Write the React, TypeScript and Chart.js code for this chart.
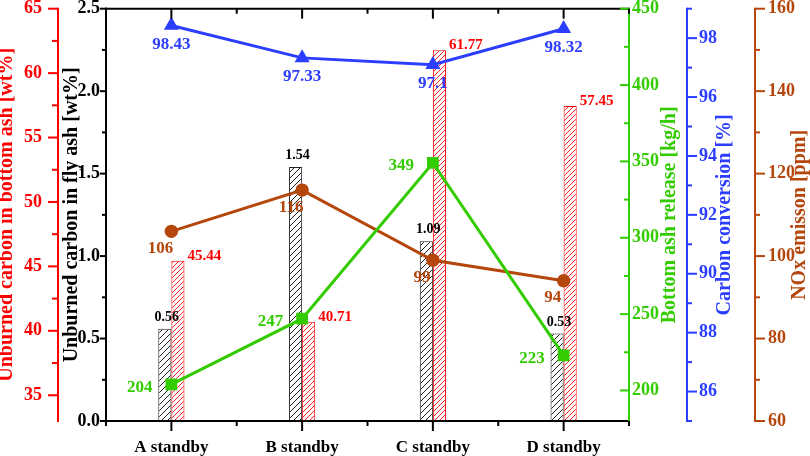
import React, { useEffect, useRef } from "react";
import { Chart, registerables } from "chart.js";

Chart.register(...registerables);

// ---------- data ----------
const categories = ["A standby", "B standby", "C standby", "D standby"];
const flyAshCarbon = [0.56, 1.54, 1.09, 0.53];
const bottomAshCarbon = [45.44, 40.71, 61.77, 57.45];
const bottomAshRelease = [204, 247, 349, 223];
const carbonConversion = [98.43, 97.33, 97.1, 98.32];
const noxEmission = [106, 116, 99, 94];

const flyTicks = [0, 0.5, 1.0, 1.5, 2.0, 2.5];
const bottomTicks = [35, 40, 45, 50, 55, 60, 65];
const releaseTicks = [200, 250, 300, 350, 400, 450];
const conversionTicks = [86, 88, 90, 92, 94, 96, 98];
const noxTicks = [60, 80, 100, 120, 140, 160];

// ---------- style ----------
const RED = "#ff0000";
const GREEN = "#33cc00";
const BLUE = "#2b3dff";
const BROWN = "#b5460c";
const BLACK = "#000000";
const FONT = "'Liberation Serif', 'Times New Roman', serif";

function hatch(color: string, size: number, lw: number) {
  const c = document.createElement("canvas");
  c.width = size;
  c.height = size;
  const g = c.getContext("2d")!;
  g.fillStyle = "#ffffff";
  g.fillRect(0, 0, size, size);
  g.strokeStyle = color;
  g.lineWidth = lw;
  g.beginPath();
  g.moveTo(0, size);
  g.lineTo(size, 0);
  g.moveTo(-1, 1);
  g.lineTo(1, -1);
  g.moveTo(size - 1, size + 1);
  g.lineTo(size + 1, size - 1);
  g.stroke();
  return g.createPattern(c, "repeat")!;
}

function yScale(
  position: string,
  weight: number,
  min: number,
  max: number,
  tickVals: number[],
  color: string,
  width: number,
  padding: number,
  decimals: number
) {
  return {
    type: "linear",
    position,
    weight,
    min,
    max,
    grid: { display: false, drawTicks: false },
    border: { display: false },
    ticks: {
      color,
      autoSkip: false,
      padding,
      font: { family: FONT, size: 18, weight: "bold" },
      callback: (v: number) => Number(v).toFixed(decimals),
    },
    afterBuildTicks: (s: any) => {
      s.ticks = tickVals.map((v) => ({ value: v }));
    },
    afterFit: (s: any) => {
      s.width = width;
      s.paddingTop = 0;
      s.paddingBottom = 0;
    },
  };
}

const decoPlugin = {
  id: "deco",
  afterDraw(chart: any) {
    const ctx = chart.ctx as CanvasRenderingContext2D;
    const ca = chart.chartArea;
    ctx.save();
    ctx.lineWidth = 2;
    ctx.lineCap = "butt";
    const line = (x1: number, y1: number, x2: number, y2: number, color: string) => {
      ctx.strokeStyle = color;
      ctx.beginPath();
      ctx.moveTo(x1, y1);
      ctx.lineTo(x2, y2);
      ctx.stroke();
    };
    // frame top & bottom
    line(ca.left - 1, ca.top, ca.right + 1, ca.top, BLACK);
    line(ca.left - 1, ca.bottom, ca.right + 1, ca.bottom, BLACK);

    const specs = [
      { id: "yBottom", edge: "right", color: RED, dir: -1, maj: 10, mi: 6 },
      { id: "yFly", edge: "right", color: BLACK, dir: -1, maj: 6, mi: 4 },
      { id: "yRelease", edge: "left", color: GREEN, dir: -1, maj: 9, mi: 5 },
      { id: "yConv", edge: "left", color: BLUE, dir: 1, maj: 10, mi: 5 },
      { id: "yNox", edge: "left", color: BROWN, dir: 1, maj: 10, mi: 5 },
    ];
    for (const sp of specs) {
      const s = chart.scales[sp.id];
      const x = s[sp.edge];
      line(x, s.top - 1, x, s.bottom + 1, sp.color);
      const majors = s.ticks.map((t: any) => t.value);
      const step = majors[1] - majors[0];
      const minors = [majors[0] - step / 2, ...majors.map((v: number) => v + step / 2)].filter(
        (v: number) => v >= s.min - 1e-9 && v <= s.max + 1e-9
      );
      for (const v of majors) {
        const y = s.getPixelForValue(v);
        line(x, y, x + sp.dir * sp.maj, y, sp.color);
      }
      for (const v of minors) {
        const y = s.getPixelForValue(v);
        line(x, y, x + sp.dir * sp.mi, y, sp.color);
      }
    }
    // x ticks
    const xs = chart.scales.x;
    for (let i = 0; i < categories.length; i++) {
      const px = xs.getPixelForValue(i);
      line(px, ca.bottom, px, ca.bottom + 10, BLACK);
      line(px, ca.top, px, ca.top + 10, BLACK);
    }
    for (let i = 0; i <= categories.length; i++) {
      const px = xs.getPixelForValue(i - 0.5);
      line(px, ca.bottom, px, ca.bottom + 5, BLACK);
      line(px, ca.top, px, ca.top + 5, BLACK);
    }

    // axis titles
    const cy = (ca.top + ca.bottom) / 2;
    const titles = [
      { id: "yBottom", text: "Unburned carbon in bottom ash [wt%]", color: RED, x: (s: any) => s.left + 7 },
      { id: "yFly", text: "Unburned carbon in fly ash [wt%]", color: BLACK, x: (s: any) => s.left + 13.5 },
      { id: "yRelease", text: "Bottom ash release [kg/h]", color: GREEN, x: (s: any) => s.right - 17.5 },
      { id: "yConv", text: "Carbon conversion [%]", color: BLUE, x: (s: any) => s.right - 30 },
      { id: "yNox", text: "NOx emisson [ppm]", color: BROWN, x: (s: any) => s.right - 10.5 },
    ];
    ctx.font = `bold 20px ${FONT}`;
    ctx.textAlign = "center";
    ctx.textBaseline = "middle";
    for (const t of titles) {
      const s = chart.scales[t.id];
      ctx.save();
      ctx.translate(t.x(s), cy);
      ctx.rotate(-Math.PI / 2);
      ctx.fillStyle = t.color;
      ctx.fillText(t.text, 0, 0);
      ctx.restore();
    }
    ctx.restore();
  },
  afterDatasetsDraw(chart: any) {
    const ctx = chart.ctx as CanvasRenderingContext2D;
    ctx.save();
    ctx.textBaseline = "middle";
    const fmt2 = (v: number) => String(v);
    // black bars
    const m0 = chart.getDatasetMeta(0);
    ctx.font = `bold 14px ${FONT}`;
    ctx.fillStyle = BLACK;
    ctx.textAlign = "center";
    m0.data.forEach((el: any, i: number) => {
      ctx.fillText(flyAshCarbon[i].toFixed(2), el.x + 2, el.y - 11.5);
    });
    // red bars
    const m1 = chart.getDatasetMeta(1);
    ctx.font = `bold 15px ${FONT}`;
    ctx.fillStyle = RED;
    ctx.textAlign = "left";
    m1.data.forEach((el: any, i: number) => {
      ctx.fillText(bottomAshCarbon[i].toFixed(2), el.x + el.width / 2 + 3, el.y - 5);
    });
    // green
    const m2 = chart.getDatasetMeta(2);
    ctx.font = `bold 17px ${FONT}`;
    ctx.fillStyle = GREEN;
    ctx.textAlign = "right";
    m2.data.forEach((el: any, i: number) => {
      ctx.fillText(fmt2(bottomAshRelease[i]), el.x - 19, el.y + 3);
    });
    // blue
    const m3 = chart.getDatasetMeta(3);
    ctx.fillStyle = BLUE;
    ctx.textAlign = "center";
    m3.data.forEach((el: any, i: number) => {
      ctx.fillText(fmt2(carbonConversion[i]), el.x, el.y + 19);
    });
    // brown
    const m4 = chart.getDatasetMeta(4);
    ctx.fillStyle = BROWN;
    ctx.textAlign = "center";
    m4.data.forEach((el: any, i: number) => {
      ctx.fillText(fmt2(noxEmission[i]), el.x - 11, el.y + 17);
    });
    ctx.restore();
  },
};

export default function App() {
  const ref = useRef<HTMLCanvasElement>(null);
  useEffect(() => {
    if (!ref.current) return;
    const blackHatch = hatch("#222222", 6, 1);
    const redHatch = hatch("#ff2222", 5, 1);
    const chart = new Chart(ref.current, {
      type: "bar",
      data: {
        labels: categories,
        datasets: [
          {
            type: "bar",
            label: "Unburned carbon in fly ash",
            data: flyAshCarbon,
            yAxisID: "yFly",
            backgroundColor: blackHatch,
            borderColor: "#222222",
            borderWidth: 1,
            borderSkipped: false,
            categoryPercentage: 0.2,
            barPercentage: 1,
            order: 1,
          },
          {
            type: "bar",
            label: "Unburned carbon in bottom ash",
            data: bottomAshCarbon,
            yAxisID: "yBottom",
            backgroundColor: redHatch,
            borderColor: RED,
            borderWidth: 1,
            borderSkipped: false,
            categoryPercentage: 0.2,
            barPercentage: 1,
            order: 1,
          },
          {
            type: "line",
            label: "Bottom ash release",
            data: bottomAshRelease,
            yAxisID: "yRelease",
            borderColor: GREEN,
            backgroundColor: GREEN,
            borderWidth: 3,
            pointStyle: "rect",
            pointRadius: 8.3,
            pointBorderWidth: 0,
            tension: 0,
            order: 0,
          },
          {
            type: "line",
            label: "Carbon conversion",
            data: carbonConversion,
            yAxisID: "yConv",
            borderColor: BLUE,
            backgroundColor: BLUE,
            borderWidth: 3,
            pointStyle: "triangle",
            pointRadius: 8.7,
            pointBorderWidth: 0,
            tension: 0,
            order: 0,
          },
          {
            type: "line",
            label: "NOx emission",
            data: noxEmission,
            yAxisID: "yNox",
            borderColor: BROWN,
            backgroundColor: BROWN,
            borderWidth: 3,
            pointStyle: "circle",
            pointRadius: 6.7,
            pointBorderWidth: 0,
            tension: 0,
            order: 0,
          },
        ] as any,
      },
      options: {
        responsive: false,
        animation: false,
        devicePixelRatio: 1,
        layout: { padding: { top: 7.5, left: 0, right: 0, bottom: 0 } },
        plugins: { legend: { display: false }, tooltip: { enabled: false } },
        scales: {
          x: {
            type: "category",
            offset: true,
            grid: { display: false, drawTicks: false },
            border: { display: false },
            ticks: {
              color: BLACK,
              autoSkip: false,
              maxRotation: 0,
              padding: 16.5,
              font: { family: FONT, size: 17, weight: "bold" },
            },
            afterFit: (s: any) => {
              s.height = 35;
              s.paddingLeft = 0;
              s.paddingRight = 0;
            },
          },
          yFly: yScale("left", 1, 0, 2.5, flyTicks, BLACK, 48, 6, 1),
          yBottom: yScale("left", 2, 33, 65, bottomTicks, RED, 58, 16, 0),
          yRelease: yScale("right", 1, 180, 450, releaseTicks, GREEN, 58, 3, 0),
          yConv: yScale("right", 2, 85, 99, conversionTicks, BLUE, 68, 12, 0),
          yNox: yScale("right", 3, 60, 160, noxTicks, BROWN, 55, 13, 0),
        } as any,
      },
      plugins: [decoPlugin],
    });
    return () => chart.destroy();
  }, []);
  return (
    <div style={{ position: "fixed", left: 0, top: 0, width: 810, height: 456, background: "#fff" }}>
      <canvas ref={ref} width={810} height={456} style={{ display: "block" }} />
    </div>
  );
}
